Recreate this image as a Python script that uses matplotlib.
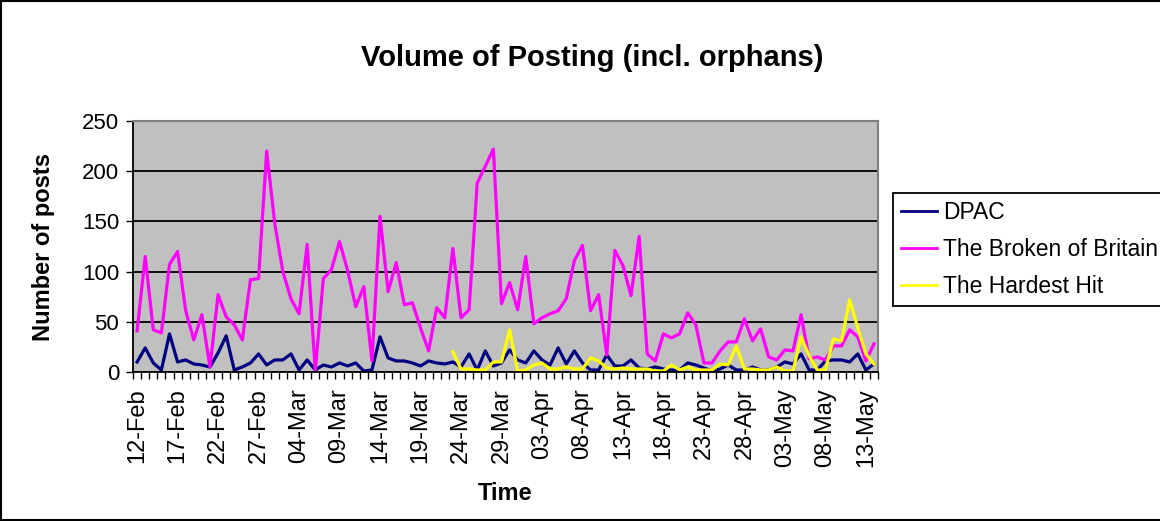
# Volume of Posting (incl. orphans) - daily posts per forum, Excel-style line chart

import numpy as np
from matplotlib import pyplot as plt
from matplotlib.lines import Line2D

plt.rcParams['font.family'] = ['Liberation Sans', 'DejaVu Sans']

# one category per day, 12-Feb .. 14-May
n_days = 92
tick_labels = ['12-Feb', '17-Feb', '22-Feb', '27-Feb', '04-Mar', '09-Mar',
               '14-Mar', '19-Mar', '24-Mar', '29-Mar', '03-Apr', '08-Apr',
               '13-Apr', '18-Apr', '23-Apr', '28-Apr', '03-May', '08-May',
               '13-May']

dpac = [
    10, 24, 9, 2, 38, 10, 12, 8, 7, 5, 19, 36, 2, 5, 9, 18,
    7, 12, 12, 18, 2, 12, 2, 7, 5, 9, 6, 9, 1, 2, 35,
    14, 11, 11, 9, 6, 11, 9, 8, 10, 5, 18, 2, 21, 6, 9,
    22, 12, 9, 21, 12, 7, 24, 8, 21, 9, 2, 2, 17, 6, 6,
    12, 4, 3, 5, 3, 2, 2, 9, 7, 4, 1, 3, 7, 2, 2,
    5, 2, 2, 5, 10, 8, 18, 2, 2, 11, 12, 12, 10, 18, 2, 8,
]

broken_of_britain = [
    41, 115, 42, 39, 107, 120, 61, 32, 57, 5, 77, 55, 47, 32, 92, 93,
    220, 148, 100, 73, 58, 127, 1, 93, 102, 130, 101, 65, 85, 11, 155,
    80, 109, 67, 69, 44, 21, 64, 54, 123, 54, 62, 188, 205, 222, 68,
    89, 62, 115, 48, 54, 58, 61, 73, 111, 126, 61, 77, 17, 121, 106,
    76, 135, 18, 11, 38, 34, 38, 59, 47, 9, 9, 21, 30, 30, 53,
    31, 43, 15, 12, 22, 21, 57, 13, 15, 12, 26, 26, 42, 35, 11, 28,
]

# The Hardest Hit only starts on 23-Mar (category 39)
hardest_hit_start = 39
hardest_hit = [
    20, 3, 3, 2, 2, 10, 10,
    42, 1, 2, 7, 9, 3, 3, 5, 3, 3, 14, 11, 4, 3, 4,
    3, 3, 3, 1, 1, 7, 2, 5, 2, 2, 2, 8, 7, 26, 3,
    3, 2, 2, 5, 1, 1, 35, 16, 2, 2, 33, 31, 72, 44, 18, 8,
]

fig = plt.figure(figsize=(11.6, 5.21), dpi=100)
ax = fig.add_axes([0.1147, 0.286, 0.6422, 0.4818])
ax.set_facecolor('#C0C0C0')

x = np.arange(n_days)
ax.plot(x, dpac, color='#000080', lw=2.3, label='DPAC')
ax.plot(x, broken_of_britain, color='#FF00FF', lw=2.3, label='The Broken of Britain')
ax.plot(np.arange(hardest_hit_start, hardest_hit_start + len(hardest_hit)), hardest_hit,
        color='#FFFF00', lw=2.3, label='The Hardest Hit')

ax.set_xlim(-0.5, n_days - 0.5)
ax.set_ylim(0, 250)
ax.set_yticks(range(0, 251, 50))
ax.yaxis.grid(True, color='black', lw=1.3)
ax.set_axisbelow(True)

# category axis: tick marks between days, labels every 5 days
ax.set_xticks(np.arange(0, n_days, 5))
ax.set_xticklabels(tick_labels, rotation=90)
ax.set_xticks(np.arange(-0.5, n_days, 1), minor=True)
ax.tick_params(axis='x', which='major', length=0, pad=12, labelsize=17)
ax.tick_params(axis='x', which='minor', length=5, width=1, color='black')
ax.tick_params(axis='y', length=5, width=1, pad=5, labelsize=16)

for side in ['top', 'right']:
    ax.spines[side].set_color('#808080')
    ax.spines[side].set_linewidth(1.5)
for side in ['left', 'bottom']:
    ax.spines[side].set_color('black')
    ax.spines[side].set_linewidth(1.3)

fig.text(0.5103, 0.888, 'Volume of Posting (incl. orphans)', ha='center', va='center',
         fontsize=21, fontweight='bold')
fig.text(44 / 1160, 274 / 521, 'Number of posts', rotation=90, ha='center', va='center',
         fontsize=17, fontweight='bold')
fig.text(505 / 1160, 28 / 521, 'Time', ha='center', va='center',
         fontsize=17, fontweight='bold')

leg = fig.legend(loc='upper left', bbox_to_anchor=(893 / 1160, 328 / 521),
                 fontsize=16.5, frameon=True, fancybox=False, framealpha=1,
                 edgecolor='black', handlelength=1.55, handletextpad=0.3,
                 labelspacing=0.62, borderpad=0.35, borderaxespad=0)
leg.get_frame().set_linewidth(1.3)
for line in leg.get_lines():
    line.set_linewidth(2)

# chart area border (left, top, bottom; the right side runs off the picture)
for xs, ys in [([0.001, 0.001], [0.002, 0.998]),
               ([0.001, 1.0], [0.998, 0.998]),
               ([0.001, 1.0], [0.002, 0.002])]:
    fig.add_artist(Line2D(xs, ys, transform=fig.transFigure, color='black', lw=1.5))

fig.savefig('out.png', dpi=100)
